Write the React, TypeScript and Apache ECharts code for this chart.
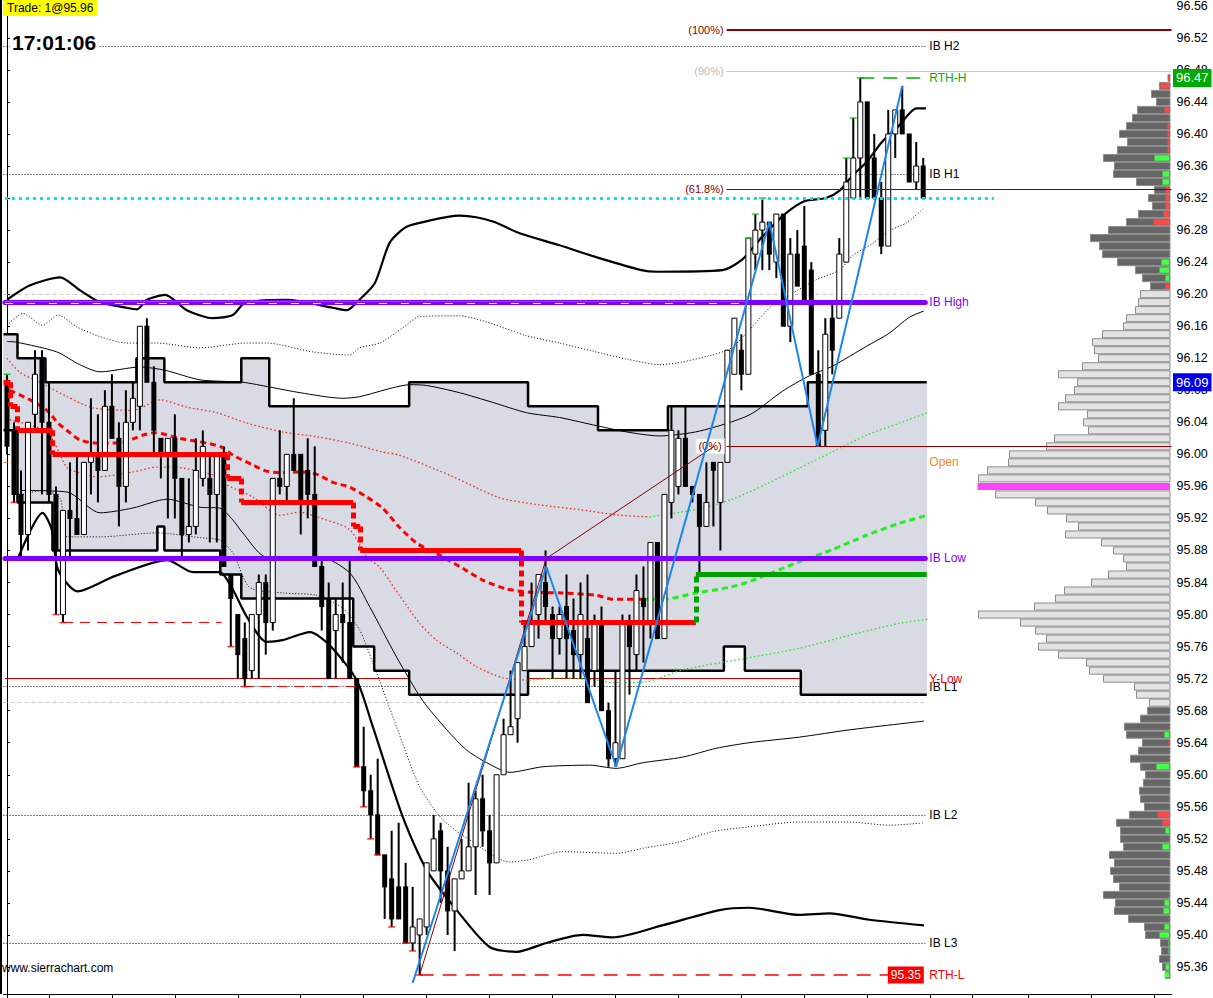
import React, { useEffect, useRef } from "react";
import * as echarts from "echarts";

const FONT = '"Liberation Sans", "DejaVu Sans", Arial, sans-serif';

// ---------- candles (bar index 0..131) ----------
const candleOpen = [
  96.09, 96.03, 95.95, 95.90, 96.05, 96.12, 96.04, 95.95, 95.80, 95.93,
  95.92, 95.90, 95.99, 96.00, 95.98, 96.06, 96.02, 95.96, 96.04, 96.06,
  96.16, 96.09, 96.02, 96.00, 96.02, 95.97, 95.90, 95.91, 95.97, 95.97,
  95.95, 96.00, 95.85, 95.80, 95.77, 95.73, 95.80, 95.84, 95.79, 95.97,
  95.96, 96.00, 96.00, 95.98, 95.95, 95.86, 95.82, 95.78, 95.80, 95.79,
  95.72, 95.61, 95.58, 95.55, 95.50, 95.47, 95.46, 95.46, 95.39, 95.40,
  95.41, 95.48, 95.53, 95.48, 95.43, 95.47, 95.48, 95.51, 95.57, 95.53,
  95.49, 95.60, 95.65, 95.67, 95.73, 95.76, 95.80, 95.84, 95.80, 95.77,
  95.81, 95.78, 95.75, 95.77, 95.73, 95.79, 95.68, 95.62, 95.62, 95.79,
  95.75, 95.82, 95.79, 95.89, 95.77, 95.94, 95.96, 96.02, 95.96, 95.95,
  95.91, 95.99, 95.94, 95.99, 96.10, 96.13, 96.10, 96.25, 96.28, 96.29,
  96.24, 96.30, 96.16, 96.25, 96.26, 96.23, 96.10, 96.03, 96.17, 96.17,
  96.24, 96.32, 96.37, 96.44, 96.37, 96.32, 96.26, 96.40, 96.43, 96.40,
  96.34, 96.36,
];
const candleClose = [
  96.01, 95.95, 95.90, 96.04, 96.10, 96.04, 95.95, 95.88, 95.93, 95.92,
  95.90, 95.99, 96.00, 95.98, 96.06, 96.02, 95.96, 96.04, 96.07, 96.16,
  96.09, 96.03, 96.00, 96.02, 95.97, 95.90, 95.91, 95.98, 96.01, 95.95,
  96.00, 95.86, 95.82, 95.75, 95.72, 95.80, 95.84, 95.79, 95.97, 95.96,
  96.00, 95.98, 95.94, 95.95, 95.86, 95.81, 95.72, 95.80, 95.79, 95.72,
  95.61, 95.58, 95.55, 95.50, 95.46, 95.42, 95.42, 95.39, 95.41, 95.42,
  95.49, 95.52, 95.48, 95.43, 95.47, 95.48, 95.51, 95.57, 95.53, 95.49,
  95.60, 95.65, 95.66, 95.74, 95.76, 95.79, 95.85, 95.81, 95.77, 95.80,
  95.77, 95.75, 95.80, 95.69, 95.79, 95.68, 95.62, 95.64, 95.79, 95.76,
  95.83, 95.81, 95.89, 95.77, 95.95, 96.03, 96.02, 95.96, 95.95, 95.91,
  95.94, 95.98, 95.99, 96.13, 96.17, 96.10, 96.27, 96.28, 96.29, 96.25,
  96.30, 96.16, 96.25, 96.21, 96.19, 96.10, 96.01, 96.15, 96.13, 96.25,
  96.34, 96.37, 96.44, 96.32, 96.32, 96.26, 96.40, 96.43, 96.40, 96.34,
  96.36, 96.32,
];
const candleHigh = [
  96.10, 96.04, 95.98, 96.04, 96.13, 96.13, 96.09, 95.96, 95.93, 95.99,
  96.00, 95.99, 96.07, 96.05, 96.08, 96.10, 96.04, 96.08, 96.09, 96.16,
  96.17, 96.11, 96.02, 96.02, 96.05, 95.97, 95.97, 96.02, 96.03, 96.00,
  96.00, 96.01, 95.85, 95.80, 95.79, 95.80, 95.85, 95.85, 95.97, 96.03,
  96.00, 96.07, 96.00, 96.02, 96.01, 95.87, 95.84, 95.82, 95.84, 95.87,
  95.72, 95.66, 95.60, 95.62, 95.50, 95.53, 95.54, 95.49, 95.46, 95.42,
  95.49, 95.55, 95.54, 95.51, 95.47, 95.52, 95.59, 95.58, 95.60, 95.55,
  95.60, 95.67, 95.73, 95.74, 95.79, 95.84, 95.85, 95.88, 95.81, 95.81,
  95.85, 95.82, 95.84, 95.85, 95.80, 95.81, 95.69, 95.73, 95.80, 95.80,
  95.85, 95.86, 95.89, 95.89, 95.95, 96.06, 96.03, 96.06, 95.96, 95.95,
  95.99, 95.99, 95.99, 96.13, 96.17, 96.15, 96.27, 96.30, 96.32, 96.29,
  96.30, 96.30, 96.27, 96.28, 96.31, 96.24, 96.13, 96.17, 96.19, 96.27,
  96.37, 96.42, 96.47, 96.44, 96.40, 96.34, 96.43, 96.43, 96.46, 96.40,
  96.39, 96.37,
];
const candleLow = [
  96.00, 95.94, 95.87, 95.88, 96.03, 95.95, 95.94, 95.80, 95.79, 95.87,
  95.90, 95.90, 95.95, 95.94, 95.98, 96.02, 95.91, 95.94, 96.03, 96.03,
  96.09, 96.00, 95.97, 95.92, 95.92, 95.87, 95.89, 95.90, 95.96, 95.89,
  95.89, 95.86, 95.76, 95.72, 95.71, 95.72, 95.72, 95.75, 95.78, 95.95,
  95.94, 95.98, 95.90, 95.92, 95.86, 95.78, 95.72, 95.72, 95.74, 95.72,
  95.61, 95.56, 95.52, 95.50, 95.42, 95.41, 95.42, 95.39, 95.38, 95.35,
  95.40, 95.48, 95.44, 95.40, 95.38, 95.47, 95.48, 95.45, 95.51, 95.45,
  95.49, 95.60, 95.65, 95.64, 95.73, 95.76, 95.77, 95.79, 95.72, 95.75,
  95.72, 95.72, 95.72, 95.69, 95.71, 95.68, 95.61, 95.61, 95.62, 95.70,
  95.73, 95.74, 95.77, 95.77, 95.77, 95.92, 95.95, 95.96, 95.94, 95.85,
  95.91, 95.91, 95.88, 95.99, 96.10, 96.08, 96.10, 96.23, 96.23, 96.23,
  96.22, 96.16, 96.14, 96.21, 96.19, 96.10, 96.01, 96.01, 96.10, 96.17,
  96.24, 96.32, 96.32, 96.32, 96.32, 96.25, 96.26, 96.37, 96.40, 96.34,
  96.33, 96.32,
];
const slotCount = 167;
const extraTickSlots = [138, 146, 155, 164];
// bars whose low / high is marked with a small tick
const newLowBars = [1, 7, 8, 32, 34, 50, 51, 52, 53, 55, 57, 58, 59];
const newHighBars = [0, 106, 107, 108, 120, 121, 122];

// ---------- developing value area steps [fromBar, toBar, price] ----------
const vaTopSegments = [
  [0, 1, 96.15], [2, 5, 96.12], [6, 18, 96.09], [19, 22, 96.12], [23, 33, 96.09],
  [34, 37, 96.12], [38, 57, 96.06], [58, 74, 96.09], [75, 84, 96.06], [85, 94, 96.03],
  [95, 114, 96.06], [115, 131, 96.09],
];
const vaBottomSegments = [
  [0, 1, 96.03], [2, 6, 95.94], [7, 21, 95.88], [22, 22, 95.91], [23, 30, 95.88],
  [31, 33, 95.85], [34, 49, 95.82], [50, 52, 95.76], [53, 57, 95.73], [58, 74, 95.70],
  [75, 102, 95.73], [103, 105, 95.76], [106, 113, 95.73], [114, 131, 95.70],
];

// ---------- developing POC steps [fromBar, toBar, price] ----------
const pocSegments = [
  [0, 0, 96.09], [1, 1, 96.06], [2, 6, 96.03], [7, 31, 96.0], [32, 33, 95.97],
  [34, 49, 95.94], [50, 50, 95.91], [51, 73, 95.88], [74, 98, 95.79], [99, 131, 95.85],
];
const pocAboveFromBar = 99;

// ---------- bands [barIndex, price] ----------
const bandUpper2 = [
  [0, 96.193], [3.3, 96.211], [7.6, 96.221], [10.4, 96.205], [13.3, 96.19], [17.1, 96.183],
  [18.6, 96.181], [20, 96.193], [22.6, 96.199], [25.7, 96.18], [29.4, 96.17], [32.3, 96.174],
  [34, 96.189], [40, 96.193], [46.6, 96.183], [48.6, 96.18], [50.4, 96.193], [52.6, 96.214],
  [54.7, 96.264], [56.9, 96.283], [59, 96.289], [64.7, 96.298], [67.1, 96.296], [69.7, 96.29],
  [73.3, 96.276], [79, 96.261], [84.7, 96.245], [90.7, 96.23], [92.9, 96.228], [102.3, 96.23],
  [105.1, 96.243], [107.6, 96.268], [111.1, 96.299], [114, 96.316], [117.1, 96.32], [119, 96.329],
  [120.9, 96.348], [122.9, 96.365], [125.1, 96.39], [127.6, 96.411], [130, 96.432], [131.4, 96.432],
];
const bandUpper1 = [
  [0, 96.141], [1.4, 96.14], [7.1, 96.128], [10.4, 96.112], [13.3, 96.103], [19, 96.109],
  [22.6, 96.105], [27.6, 96.093], [33.7, 96.09], [37.6, 96.084], [41.9, 96.077], [48, 96.07],
  [50.4, 96.072], [55.1, 96.083], [57.6, 96.087], [60, 96.086], [64.7, 96.077], [69.4, 96.065],
  [74.3, 96.052], [79, 96.046], [83.7, 96.037], [88.6, 96.028], [93.3, 96.023], [99, 96.029],
  [106.1, 96.049], [110.9, 96.079], [114.7, 96.098], [118, 96.11], [122.9, 96.135],
  [126.1, 96.151], [129, 96.171], [131.1, 96.179],
];
const bandUpperDotted = [
  [0, 96.161], [2.3, 96.176], [5.1, 96.161], [7.3, 96.174], [10, 96.159], [13.3, 96.147],
  [17.1, 96.139], [21.4, 96.139], [27.6, 96.133], [34.3, 96.139], [37.1, 96.139], [43.7, 96.128],
  [49, 96.124], [50.4, 96.133], [53.3, 96.139], [56.6, 96.158], [59, 96.172], [64.7, 96.173],
  [67.1, 96.169], [69.4, 96.163], [74.3, 96.148], [79, 96.139], [83.7, 96.129], [88.6, 96.119],
  [93.3, 96.112], [103, 96.13], [105.7, 96.151], [109.4, 96.186], [112.3, 96.201], [115.7, 96.218],
  [119, 96.23], [120.9, 96.248], [123.7, 96.263], [126.1, 96.279], [128.6, 96.289], [130.9, 96.306],
];
const bandLower1 = [
  [1.9, 95.955], [8.6, 95.953], [13.3, 95.927], [18, 95.933], [22.9, 95.944], [27.6, 95.934],
  [30.4, 95.933], [32.3, 95.918], [33.7, 95.902], [37.1, 95.872], [44.7, 95.872], [49, 95.852],
  [51.9, 95.809], [55.7, 95.747], [59.4, 95.693], [62.9, 95.656], [65.7, 95.631], [68.6, 95.615],
  [71.9, 95.603], [76.6, 95.61], [83.3, 95.612], [87.1, 95.608], [90.9, 95.615], [96.6, 95.622],
  [101.4, 95.633], [106.1, 95.64], [113.3, 95.647], [120.4, 95.656], [131.1, 95.667],
];
const bandLowerDotted = [
  [1.9, 95.949], [5.1, 95.955], [7.6, 95.945], [8.6, 95.897], [13.3, 95.897], [21.4, 95.902],
  [27.6, 95.896], [30.4, 95.893], [32.3, 95.877], [34.7, 95.834], [39.4, 95.827], [44.3, 95.824],
  [48, 95.808], [50.4, 95.781], [52.3, 95.74], [55.7, 95.66], [59, 95.585], [62.3, 95.544],
  [66.1, 95.519], [71.9, 95.491], [74.7, 95.494], [79.4, 95.504], [87.1, 95.502], [91.4, 95.509],
  [96.1, 95.516], [100.9, 95.529], [106.1, 95.535], [113.3, 95.541], [120.4, 95.541],
  [126.1, 95.537], [131.1, 95.54],
];
const bandLower2 = [
  [1.6, 95.871], [5.1, 95.927], [6.4, 95.906], [7.3, 95.856], [10.1, 95.829], [15.4, 95.848],
  [22.9, 95.868], [26.6, 95.853], [30.4, 95.853], [32.3, 95.831], [34.3, 95.797], [37.1, 95.766],
  [39.4, 95.768], [43.3, 95.778], [46.1, 95.762], [50, 95.718], [52.3, 95.66], [56.6, 95.547],
  [60, 95.481], [64.3, 95.431], [69, 95.385], [72.9, 95.379], [77.1, 95.39], [82.3, 95.4],
  [86.6, 95.397], [93.7, 95.412], [101.9, 95.431], [106.1, 95.434], [113.3, 95.425],
  [117.6, 95.427], [123.3, 95.419], [131.1, 95.412],
];

// ---------- VWAP and its bands [barIndex, price] ----------
const vwapBelow = [
  [0.4, 96.08], [3.3, 96.068], [5.7, 96.055], [7.3, 96.039], [9, 96.027], [10.4, 96.018],
  [12.9, 96.014], [16.6, 96.015], [19.4, 96.024], [21.1, 96.027], [24.7, 96.02], [28.6, 96.014],
  [30.7, 96.009], [32.3, 95.999], [35.1, 95.987], [37.1, 95.979], [39, 95.977], [41.9, 95.978],
  [44.3, 95.975], [46.6, 95.965], [49, 95.959], [51.4, 95.947], [53.7, 95.933], [56.1, 95.909],
  [58.6, 95.889], [61.9, 95.874], [65.1, 95.858], [68, 95.843], [71.4, 95.832], [74.7, 95.828],
  [79.4, 95.827], [84.3, 95.824], [86.6, 95.819], [90.9, 95.819],
];
const vwapAbove = [
  [90.9, 95.819], [93.7, 95.819], [98.6, 95.827], [103.3, 95.834], [106.1, 95.841],
  [113.3, 95.866], [118, 95.881], [122.9, 95.899], [127.6, 95.914], [131.6, 95.924],
];
const vwapUpperBelow = [
  [0, 96.12], [1.9, 96.102], [4.7, 96.09], [8.6, 96.072], [12.3, 96.058], [18, 96.055],
  [21.9, 96.068], [25.7, 96.059], [30, 96.052], [34.3, 96.039], [39.4, 96.028], [44.3, 96.022],
  [49, 96.014], [53.7, 96.003], [56.1, 95.999], [63.3, 95.974], [70.4, 95.946], [76.1, 95.937],
  [81.9, 95.931], [87.6, 95.924], [91.9, 95.922],
];
const vwapUpperAbove = [
  [91.9, 95.922], [99, 95.932], [103.7, 95.944], [108.6, 95.963], [113.3, 95.983],
  [118, 96.003], [122.9, 96.024], [127.6, 96.039], [131.6, 96.052],
];
const vwapLowerBelow = [
  [0.4, 96.043], [5.7, 96.028], [8.6, 95.983], [10, 95.978], [12.9, 95.972], [18, 95.978],
  [21.4, 95.984], [23.7, 95.984], [30, 95.973], [31.4, 95.962], [35.1, 95.947], [39, 95.924],
  [41.9, 95.928], [44.3, 95.922], [49, 95.906], [51.4, 95.872], [53.3, 95.859], [56.1, 95.824],
  [59, 95.789], [61.4, 95.768], [64.3, 95.752], [67.1, 95.735], [70.9, 95.721], [74.7, 95.718],
];
const vwapLowerAbove = [
  [74.7, 95.718], [79.4, 95.721], [84.3, 95.718], [86.6, 95.715], [91.4, 95.716],
  [96.6, 95.731], [106.1, 95.746], [113.3, 95.758], [120.4, 95.774], [127.6, 95.789],
  [131.6, 95.794],
];

// ---------- drawings ----------
const zigzag = [[58, 95.34], [77.1, 95.86], [87.1, 95.61], [109, 96.29], [115.9, 96.01], [128, 96.46]];
const fibAnchor = [[59, 95.35], [77.1, 95.87], [101.1, 96.01]];
const fibStartBar = 102.9;
const fibNames = ["(100%)", "(90%)", "(61.8%)", "(0%)"];
const fibPrices = [96.53, 96.478, 96.331, 96.01];

// ---------- levels ----------
const ibHigh = 96.19;
const ibLow = 95.87;
const ibHighOverlayEndBar = 105.7;
const ibExtNames = ["IB H2", "IB H1", "IB L1", "IB L2", "IB L3"];
const ibExtPrices = [96.51, 96.35, 95.71, 95.55, 95.39];
const openPrice = 95.99;
const yLowPrice = 95.72;
const rthHigh = 96.47;
const rthHighBar = 122;
const rthLow = 95.35;
const rthLowBar = 59;
const cyanPrice = 96.32;
const grayDashedPrices = [96.2, 95.69];
const priorLowLines = [[8, 30.7, 95.79], [33.8, 50, 95.71]];
const levelEndBar = 131.3;

// ---------- volume profile (top price down, 0.01 per row) ----------
const profileTop = 96.47;
const profileVolume = [
  3, 12, 20, 15, 34, 39, 45, 52, 44, 54, 68, 57, 58, 35, 17, 23, 19, 33, 45, 63, 81, 72, 69, 54, 36, 29, 21,
  31, 33, 36, 45, 48, 69, 79, 77, 73, 89, 113, 94, 97, 106, 113, 84, 88, 83, 117, 125, 162, 163, 184, 193,
  194, 176, 136, 124, 105, 93, 106, 70, 58, 48, 45, 63, 80, 107, 116, 137, 193, 151, 136, 125, 133, 113, 85,
  82, 68, 37, 35, 22,
  24, 31, 47, 45, 29, 33, 41, 31, 26, 28, 32, 31, 27, 42, 55, 51, 51, 48, 62, 57, 61, 58, 52, 68, 56, 57, 43,
  27, 26, 11, 10, 12, 9, 6,
];
const profileDelta = [
  -3, -10, 0, 0, -6, 0, -3, -3, -3, -3, 16, 0, 8, 8, -5, -5, -5, -7, -17, 0, 0, 0, 1, 9, 11, 5, -5,
  0, 0, 0, 0, 0, 0, 0, 0, 0, 0, 0, 0, 0, 0, 0, 0, 0, 0, 0, 0, 0, 0, 0, 0, 0, 0, 0, 0, 0, 0, 0, 0, 0, 0,
  0, 0, 0, 0, 0, 0, 0, 0, 0, 0, 0, 0, 0, 0, 0, 0, 0, 0,
  0, 1, 0, 6, -2, 0, 0, 14, 0, 0, 0, 1, 0, -13, -8, 5, 0, 8, 0, 0, 1, 1, 0, 1, 6, 7, 0, 6, 11, 2, 2, 0, 5, 6,
];
const profileVaHigh = 96.2;
const profileVaLow = 95.69;
const profilePoc = 95.96;

const axisBoxPrices = [96.47, 96.09];

function stepPoints(segs: number[][]) {
  const pts: number[][] = [];
  segs.forEach(([a, b, p]) => {
    pts.push([a - 0.5, p]);
    pts.push([b + 0.5, p]);
  });
  return pts;
}
function segValue(segs: number[][], i: number) {
  const s = segs.find((g) => i >= g[0] && i <= g[1]);
  return s ? s[2] : NaN;
}

function buildOption() {
  const cats = Array.from({ length: slotCount }, (_, i) => String(i));
  const candleData = candleOpen.map((o, i) => [i, o, candleClose[i], candleLow[i], candleHigh[i]]);
  const vaFill = candleOpen.map((_, i) => [i, segValue(vaTopSegments, i), segValue(vaBottomSegments, i)]);
  const profileData = profileVolume.map((v, k) => [
    Math.round((profileTop - k * 0.01) * 100) / 100,
    v,
    profileDelta[k],
  ]);

  const lab = (text: string, color: string, extra: any = {}) => ({
    show: true,
    position: "end",
    distance: 4,
    formatter: text,
    color,
    fontSize: 12,
    fontFamily: FONT,
    ...extra,
  });
  const hLine = (x1: number, x2: number, p: number, lineStyle: any, label?: any) => [
    { coord: [x1, p], lineStyle: { type: "solid", ...lineStyle }, label: label || { show: false } },
    { coord: [x2, p] },
  ];

  const curve = (data: any, color: string, width: number, type: any, z: number, smooth: any = 0.25) => ({
    type: "line",
    xAxisIndex: 1,
    yAxisIndex: 0,
    data,
    showSymbol: false,
    symbol: "none",
    smooth,
    silent: true,
    lineStyle: { color, width, type },
    z,
  });

  // markLines behind candles
  const backLines: any[] = [];
  grayDashedPrices.forEach((p) =>
    backLines.push(hLine(-0.5, levelEndBar, p, { color: "#C8C8C8", width: 1, type: [4, 3] }))
  );
  ibExtNames.forEach((n, k) =>
    backLines.push(hLine(-0.5, levelEndBar, ibExtPrices[k], { color: "#000", width: 1, type: [1, 2] }, lab(n, "#000")))
  );
  backLines.push(hLine(-0.5, levelEndBar, openPrice, { color: "#F28A2E", width: 1, type: [4, 3] }, lab("Open", "#F28A2E")));
  backLines.push(hLine(-0.3, levelEndBar, yLowPrice, { color: "#D00000", width: 1 }, lab("Y-Low", "#E00000")));

  // markLines above candles
  const frontLines: any[] = [];
  frontLines.push(hLine(-0.3, 141.1, cyanPrice, { color: "#00E5EE", width: 3, type: [3, 4] }));
  frontLines.push(hLine(-0.3, levelEndBar, ibHigh, { color: "#7F00FF", width: 5, cap: "round" }, lab("IB High", "#8000FF")));
  frontLines.push(hLine(-0.3, ibHighOverlayEndBar, ibHigh + 0.0012, { color: "#33BB33", width: 0.8 }));
  frontLines.push(hLine(-0.3, ibHighOverlayEndBar, ibHigh - 0.0008, { color: "#FFFFFF", width: 1, type: [8, 14] }));
  frontLines.push(hLine(-0.3, levelEndBar, ibLow, { color: "#7F00FF", width: 5, cap: "round" }, lab("IB Low", "#8000FF")));
  priorLowLines.forEach(([a, b, p]) =>
    frontLines.push(hLine(a, b, p, { color: "#FF0000", width: 1, type: [10, 7] }))
  );
  frontLines.push(hLine(rthHighBar, levelEndBar, rthHigh, { color: "#00B000", width: 1.5, type: [14, 9] }, lab("RTH-H", "#00B000")));
  frontLines.push(hLine(rthLowBar, levelEndBar, rthLow, { color: "#FF0000", width: 1.5, type: [14, 9] }, lab("RTH-L", "#FF0000")));
  const fibColors = ["#8B0000", "#C8C8C8", "#8B0000", "#8B0000"];
  const fibLabelColors = ["#8B0000", "#BBBBBB", "#8B0000", "#8B0000"];
  fibNames.forEach((n, k) => {
    const extra: any = { position: "start", fontSize: 11, distance: 3 };
    if (n === "(0%)") {
      extra.backgroundColor = "#fff";
      extra.padding = [2, 2, 1, 2];
      extra.borderColor = "#E6E6E6";
      extra.borderWidth = 1;
    }
    frontLines.push(
      hLine(fibStartBar, 166.5, fibPrices[k], { color: fibColors[k], width: k === 0 ? 2 : 1 }, lab(n, fibLabelColors[k], extra))
    );
  });
  pocSegments.forEach(([a, b, p], k) => {
    const color = a >= pocAboveFromBar ? "#00A000" : "#FF0000";
    frontLines.push(hLine(a - 0.5, b + 0.5, p, { color, width: 5, cap: "butt" }));
    const next = pocSegments[k + 1];
    if (next) {
      const c2 = next[0] >= pocAboveFromBar ? "#00A000" : "#FF0000";
      frontLines.push([
        { coord: [b + 0.5, p], lineStyle: { color: c2, width: 5, type: [6, 4] }, label: { show: false } },
        { coord: [b + 0.5, next[2]] },
      ]);
    }
  });

  const boxLabel = (text: string, bg: string, position: string, fontSize: number) => ({
    show: true,
    position,
    distance: 1,
    formatter: text,
    color: "#fff",
    backgroundColor: bg,
    padding: [3, 3, 2, 3],
    fontSize,
    fontFamily: FONT,
  });
  const markPoints = [
    {
      coord: [levelEndBar, rthLow],
      symbol: "rect",
      symbolSize: 1,
      itemStyle: { color: "rgba(0,0,0,0)" },
      label: boxLabel(rthLow.toFixed(2), "#FF0000", "left", 12),
    },
    {
      coord: [166.5, axisBoxPrices[0]],
      symbol: "rect",
      symbolSize: 1,
      itemStyle: { color: "rgba(0,0,0,0)" },
      label: boxLabel(axisBoxPrices[0].toFixed(2), "#00AA00", "right", 13),
    },
    {
      coord: [166.5, axisBoxPrices[1]],
      symbol: "rect",
      symbolSize: 1,
      itemStyle: { color: "rgba(0,0,0,0)" },
      label: boxLabel(axisBoxPrices[1].toFixed(2), "#0000EE", "right", 13),
    },
  ];

  const lowTicks = newLowBars.map((i) => [i, candleLow[i]]);
  const highTicks = newHighBars.map((i) => [i, candleHigh[i]]);

  return {
    animation: false,
    backgroundColor: "#ffffff",
    tooltip: { show: false },
    grid: {
      left: 3.5,
      right: 41.5,
      top: -26.24,
      bottom: -1.04,
      containLabel: false,
      outerBoundsMode: "none",
    },
    xAxis: [
      {
        type: "category",
        data: cats,
        boundaryGap: true,
        position: "bottom",
        offset: -5,
        axisLine: { show: true, lineStyle: { color: "#000", width: 1 } },
        axisTick: {
          show: true,
          alignWithLabel: true,
          length: 5,
          interval: (i: number) => (i <= 132 && i % 9 === 6) || extraTickSlots.indexOf(i) >= 0,
          lineStyle: { color: "#000" },
        },
        axisLabel: { show: false },
        splitLine: { show: false },
      },
      { type: "value", min: -0.5, max: slotCount - 0.5, show: false, splitLine: { show: false } },
      { type: "value", min: 0, max: 1168, inverse: true, show: false, splitLine: { show: false } },
    ],
    yAxis: [
      {
        type: "value",
        position: "right",
        min: 95.32,
        max: 96.6,
        interval: 0.04,
        axisLine: { show: true, lineStyle: { color: "#000", width: 1 } },
        axisTick: { show: true, length: 3, lineStyle: { color: "#000" } },
        axisLabel: {
          color: "#000",
          fontSize: 12.5,
          fontFamily: FONT,
          margin: 5,
          showMinLabel: false,
          showMaxLabel: false,
          formatter: (v: number) => v.toFixed(2),
        },
        splitLine: { show: false },
      },
    ],
    series: [
      {
        type: "custom",
        name: "va-fill",
        xAxisIndex: 1,
        yAxisIndex: 0,
        data: vaFill,
        encode: { x: 0, y: [1, 2] },
        silent: true,
        z: 1,
        renderItem: (params: any, api: any) => {
          const i = api.value(0);
          const a = api.coord([i - 0.5, api.value(1)]);
          const b = api.coord([i + 0.5, api.value(2)]);
          return {
            type: "rect",
            shape: { x: a[0] - 0.4, y: a[1], width: b[0] - a[0] + 0.8, height: b[1] - a[1] },
            style: { fill: "#D9DBE4" },
          };
        },
      },
      {
        type: "line",
        xAxisIndex: 1,
        yAxisIndex: 0,
        silent: true,
        z: 1,
        symbol: "none",
        showSymbol: false,
        data: [],
        markLine: { silent: true, symbol: ["none", "none"], z: 1, animation: false, data: backLines },
      },
      { ...curve(stepPoints(vaTopSegments), "#000", 2.5, "solid", 2, false) },
      { ...curve(stepPoints(vaBottomSegments), "#000", 2.5, "solid", 2, false) },
      curve(bandUpper2, "#000", 2.2, "solid", 2),
      curve(bandUpper1, "#000", 1, "solid", 2),
      curve(bandUpperDotted, "#000", 1, [1, 2], 2),
      curve(bandLower1, "#000", 1, "solid", 2),
      curve(bandLowerDotted, "#000", 1, [1, 2], 2),
      curve(bandLower2, "#000", 2.2, "solid", 2),
      curve(vwapUpperBelow, "#FF2020", 1.3, [1.5, 2.5], 3),
      curve(vwapUpperAbove, "#22DD22", 1.3, [1.5, 2.5], 3),
      curve(vwapLowerBelow, "#FF2020", 1.3, [1.5, 2.5], 3),
      curve(vwapLowerAbove, "#22DD22", 1.3, [1.5, 2.5], 3),
      curve(vwapBelow, "#FF0000", 3, [6, 4], 3),
      curve(vwapAbove, "#22EE22", 3, [6, 4], 3),
      {
        type: "custom",
        name: "profile",
        xAxisIndex: 2,
        yAxisIndex: 0,
        data: profileData,
        encode: { x: 1, y: 0 },
        silent: true,
        z: 3,
        renderItem: (params: any, api: any) => {
          const price = api.value(0);
          const vol = api.value(1);
          const delta = api.value(2);
          const a = api.coord([vol, price + 0.0044]);
          const b = api.coord([0, price - 0.0044]);
          const right = b[0] - 1.5;
          const left = a[0];
          const top = a[1];
          const h = b[1] - a[1];
          const isPoc = Math.abs(price - profilePoc) < 0.001;
          const inVa = price <= profileVaHigh + 0.001 && price >= profileVaLow - 0.001;
          const children: any[] = [
            {
              type: "rect",
              shape: { x: left, y: top, width: right - left, height: h },
              style: isPoc
                ? { fill: "#FF44FF" }
                : { fill: inVa ? "#E3E3E3" : "#666666", stroke: "#8C8C8C", lineWidth: 1 },
            },
          ];
          if (delta !== 0) {
            const d = api.coord([Math.abs(delta), price]);
            children.push({
              type: "rect",
              shape: { x: d[0] - 1, y: top + 0.8, width: right - 0.8 - (d[0] - 1), height: h - 1.6 },
              style: { fill: delta > 0 ? "#44FF44" : "#FF4848" },
            });
          }
          return { type: "group", children };
        },
      },
      {
        type: "custom",
        name: "candles",
        xAxisIndex: 0,
        yAxisIndex: 0,
        data: candleData,
        encode: { x: 0, y: [1, 2, 3, 4] },
        silent: true,
        z: 4,
        renderItem: (params: any, api: any) => {
          const i = api.value(0);
          const o = api.value(1);
          const c = api.value(2);
          const l = api.value(3);
          const hi = api.value(4);
          const pH = api.coord([i, hi]);
          const pL = api.coord([i, l]);
          const pO = api.coord([i, o]);
          const pC = api.coord([i, c]);
          const x = pH[0];
          const top = Math.min(pO[1], pC[1]);
          const bot = Math.max(pO[1], pC[1]);
          const children: any[] = [
            { type: "line", shape: { x1: x, y1: pH[1], x2: x, y2: pL[1] }, style: { stroke: "#000", lineWidth: 2 } },
          ];
          if (c > o) {
            children.push({
              type: "rect",
              shape: { x: x - 2.5, y: top, width: 5, height: Math.max(bot - top, 1) },
              style: { fill: "#fff", stroke: "#000", lineWidth: 1 },
            });
          } else {
            children.push({
              type: "rect",
              shape: { x: x - 2.5, y: top - 0.5, width: 5, height: Math.max(bot - top, 1) + 1 },
              style: { fill: "#000" },
            });
          }
          return { type: "group", children };
        },
      },
      {
        type: "scatter",
        xAxisIndex: 0,
        yAxisIndex: 0,
        data: lowTicks,
        symbol: "rect",
        symbolSize: [7, 1.5],
        itemStyle: { color: "#FF0000" },
        silent: true,
        z: 4,
      },
      {
        type: "scatter",
        xAxisIndex: 0,
        yAxisIndex: 0,
        data: highTicks,
        symbol: "rect",
        symbolSize: [7, 1.5],
        itemStyle: { color: "#00C000" },
        silent: true,
        z: 4,
      },
      {
        type: "line",
        xAxisIndex: 1,
        yAxisIndex: 0,
        silent: true,
        z: 5,
        symbol: "none",
        showSymbol: false,
        data: [],
        markLine: { silent: true, symbol: ["none", "none"], z: 5, animation: false, data: frontLines },
        markPoint: { silent: true, z: 8, animation: false, data: markPoints },
      },
      curve(fibAnchor, "#8B0000", 1, "solid", 6, false),
      curve(zigzag, "#1C86EE", 2, "solid", 6, false),
    ],
    graphic: [
      { type: "line", shape: { x1: 1, y1: 0, x2: 1, y2: 994 }, style: { stroke: "#000", lineWidth: 2 }, z: 100 },
      {
        type: "text",
        x: 3,
        y: 0,
        z: 100,
        style: {
          text: "Trade: 1@95.96",
          fontSize: 12,
          fontFamily: FONT,
          fill: "#000",
          backgroundColor: "#FFFF00",
          padding: [2, 4, 2, 4],
        },
      },
      {
        type: "text",
        x: 10,
        y: 31,
        z: 100,
        style: {
          text: "17:01:06",
          fontSize: 21,
          fontWeight: "bold",
          fontFamily: FONT,
          fill: "#000",
          backgroundColor: "#fff",
          padding: [1, 2, 1, 2],
        },
      },
      {
        type: "text",
        x: 2,
        y: 962,
        z: 100,
        style: { text: "www.sierrachart.com", fontSize: 12, fontFamily: FONT, fill: "#000" },
      },
    ],
  };
}

export default function App() {
  const ref = useRef<HTMLDivElement>(null);
  useEffect(() => {
    if (!ref.current) return;
    const chart = echarts.init(ref.current, null, { renderer: "svg" });
    chart.setOption(buildOption() as any);
    return () => chart.dispose();
  }, []);
  return (
    <div
      ref={ref}
      style={{ position: "absolute", left: 0, top: 0, width: 1213, height: 998, background: "#fff" }}
    />
  );
}
